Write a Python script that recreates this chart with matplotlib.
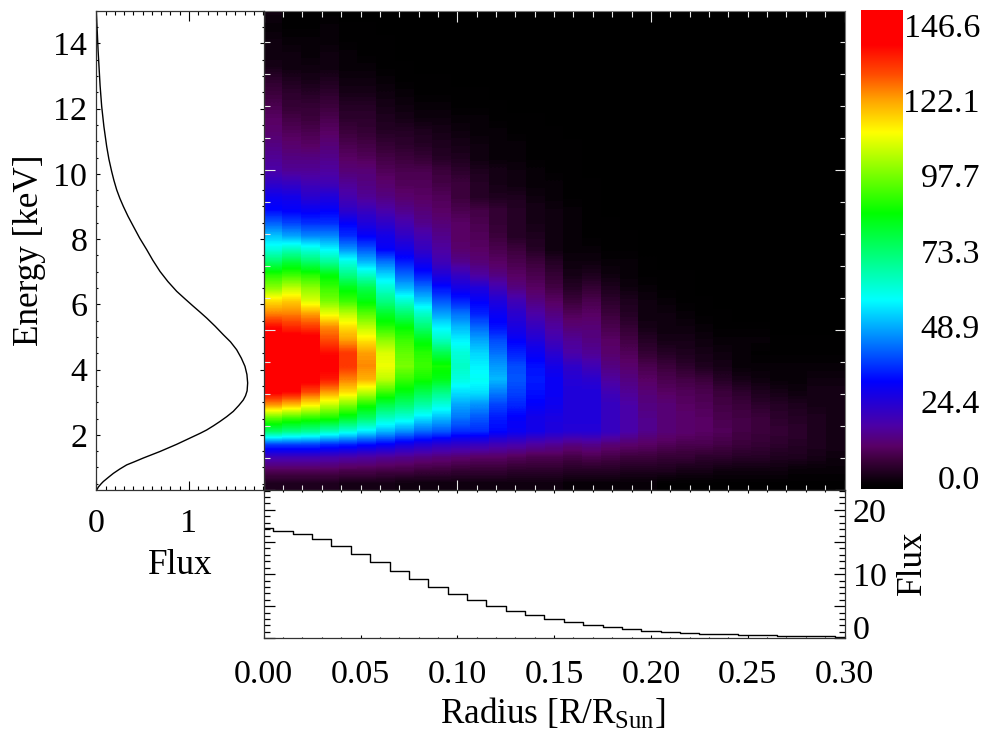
import numpy as np
import matplotlib
matplotlib.use('Agg')
import matplotlib.pyplot as plt
from matplotlib.colors import LinearSegmentedColormap
from matplotlib.ticker import MultipleLocator, NullFormatter

plt.rcParams['font.family'] = ['Liberation Serif', 'DejaVu Serif']
plt.rcParams['mathtext.fontset'] = 'custom'
plt.rcParams['mathtext.rm'] = 'Liberation Serif'
plt.rcParams['mathtext.default'] = 'rm'

W, H = 984, 735
PX = 0.72  # points per pixel at dpi 100
FS = 24.5
FS_TITLE = 25.3

# spectrum, left panel
spec_energy = [0.31, 0.40, 0.50, 0.57, 0.69, 0.82, 0.95, 1.08, 1.18, 1.29, 1.39, 1.49, 1.60, 1.71, 1.83, 1.95,
               2.05, 2.15, 2.28, 2.41, 2.56, 2.72, 2.90, 3.07, 3.20, 3.35, 3.59, 3.85, 4.10, 4.35, 4.61, 4.85,
               5.07, 5.33, 5.58, 5.76, 5.94, 6.17, 6.40, 6.70, 7.01, 7.35, 7.68, 8.03, 8.39, 8.70, 9.00, 9.25,
               9.51, 9.80, 10.07, 10.45, 10.84, 11.45, 12.07, 12.70, 13.30, 13.80, 14.32, 14.98]
spec_flux = [0.004, 0.022, 0.052, 0.076, 0.127, 0.184, 0.252, 0.328, 0.415, 0.507, 0.597, 0.687, 0.777, 0.867,
             0.957, 1.047, 1.122, 1.191, 1.265, 1.334, 1.408, 1.478, 1.537, 1.586, 1.610, 1.627, 1.633, 1.625,
             1.604, 1.565, 1.514, 1.448, 1.370, 1.282, 1.191, 1.120, 1.047, 0.956, 0.867, 0.772, 0.687, 0.610,
             0.543, 0.468, 0.400, 0.342, 0.292, 0.254, 0.220, 0.190, 0.166, 0.136, 0.112, 0.082, 0.058, 0.041,
             0.029, 0.019, 0.011, 0.0]

# radial profile, bottom panel
radius = [0.00, 0.01, 0.02, 0.03, 0.04, 0.05, 0.06, 0.07, 0.08, 0.09, 0.10, 0.11, 0.12, 0.13, 0.14, 0.15,
          0.16, 0.17, 0.18, 0.19, 0.20, 0.21, 0.22, 0.23, 0.24, 0.25, 0.26, 0.27, 0.28, 0.29, 0.30]
radial_flux = [17.13, 16.77, 16.3, 15.42, 14.33, 13.14, 11.84, 10.54, 9.24, 8.0, 6.91, 5.92, 5.04, 4.26,
               3.58, 3.01, 2.54, 2.13, 1.82, 1.51, 1.19, 1.04, 0.88, 0.73, 0.62, 0.52, 0.47, 0.42, 0.36,
               0.31, 0.26]

# flux map, one list per radius column, from lowest energy row upward (missing rows are zero)
map_columns = [
    [5, 12, 22, 40, 75, 95, 122, 140, 150, 150, 150, 146, 138, 125, 115, 100, 90, 75, 62, 53, 43, 34, 31, 25, 20, 18, 16, 14, 13, 11, 9, 7, 4, 3, 3, 2, 3],
    [5, 12, 22, 40, 72, 92, 118, 138, 148, 148, 146, 143, 134, 125, 117, 105, 92, 80, 65, 50, 40, 33, 30, 24, 18, 16, 14, 12, 10, 8, 7, 5, 3, 3, 2, 1, 1],
    [5, 12, 22, 40, 70, 90, 112, 130, 142, 145, 146, 143, 132, 122, 108, 100, 90, 75, 62, 47, 38, 32, 26, 22, 18, 16, 13, 11, 9, 8, 6, 4, 3, 2, 2, 1, 1],
    [5, 12, 21, 38, 66, 88, 105, 122, 136, 140, 138, 130, 124, 110, 98, 92, 85, 70, 58, 47, 38, 33, 28, 22, 19, 17, 15, 13, 11, 9, 7, 5, 3, 3, 2, 2, 1],
    [4, 11, 20, 37, 62, 82, 98, 115, 125, 132, 132, 122, 115, 105, 92, 84, 72, 62, 48, 38, 33, 25, 21, 18, 15, 13, 11, 9, 7, 6, 4, 3, 2, 2, 1, 1],
    [4, 11, 19, 35, 57, 75, 88, 105, 120, 124, 122, 114, 105, 95, 85, 78, 65, 52, 42, 33, 28, 23, 18, 16, 15, 12, 10, 8, 7, 6, 4, 3, 2, 1, 1, 1],
    [4, 10, 18, 33, 52, 65, 78, 92, 105, 110, 108, 100, 90, 82, 72, 64, 55, 45, 33, 30, 25, 20, 16, 14, 12, 10, 8, 6, 5, 4, 3, 2, 1, 1, 1],
    [3, 10, 17, 30, 48, 62, 74, 84, 92, 98, 96, 92, 86, 75, 64, 52, 44, 36, 30, 25, 21, 17, 14, 12, 11, 9, 7, 6, 4, 3, 2, 1, 1],
    [3, 9, 16, 28, 44, 56, 68, 78, 88, 92, 90, 84, 74, 65, 54, 45, 36, 30, 24, 21, 17, 15, 13, 12, 11, 8, 6, 5, 3, 2, 1, 1],
    [3, 9, 15, 26, 42, 52, 62, 72, 84, 88, 78, 66, 58, 50, 42, 35, 28, 22, 19, 17, 15, 13, 12, 10, 9, 6, 5, 4, 3, 2, 1, 1],
    [3, 8, 14, 25, 38, 45, 50, 56, 62, 65, 63, 58, 52, 45, 37, 30, 24, 17, 14, 13, 13, 11, 9, 9, 7, 5, 4, 3, 2, 1, 1],
    [3, 8, 13, 24, 38, 42, 48, 56, 60, 58, 55, 50, 44, 37, 33, 28, 19, 15, 13, 12, 11, 10, 6, 6, 5, 3, 3, 2, 2, 1, 1],
    [3, 8, 13, 22, 34, 36, 40, 46, 52, 49, 45, 41, 35, 32, 28, 22, 16, 13, 11, 9, 8, 8, 5, 4, 4, 2, 2, 2, 1, 1],
    [3, 7, 12, 21, 32, 33, 37, 40, 42, 41, 37, 33, 29, 26, 22, 16, 13, 11, 9, 6, 6, 6, 5, 3, 3, 2, 2, 1, 1],
    [3, 7, 11, 19, 30, 30, 33, 35, 36, 35, 32, 28, 24, 20, 16, 13, 11, 9, 6, 5, 4, 4, 3, 2, 2, 1, 1, 1, 1],
    [3, 7, 11, 18, 28, 29, 31, 32, 32, 30, 26, 22, 19, 16, 13, 10, 8, 6, 3, 3, 3, 3, 2, 2, 1, 1, 1, 1],
    [2, 6, 10, 16, 27, 28, 28, 28, 27, 25, 20, 18, 15, 12, 9, 6, 4, 3, 2, 2, 2, 2, 1, 1, 1, 1, 1],
    [2, 6, 11, 17, 27, 28, 28, 28, 26, 22, 18, 16, 15, 13, 11, 8, 5, 3, 2, 1, 1, 1, 1, 1],
    [2, 6, 10, 15, 24, 24, 24, 22, 19, 16, 14, 13, 11, 9, 7, 5, 3, 2, 1, 1, 1],
    [2, 5, 9, 14, 20, 20, 20, 18, 16, 14, 12, 10, 8, 6, 5, 3, 2, 2, 1, 1],
    [2, 5, 9, 13, 17, 17, 16, 15, 13, 11, 8, 6, 4, 3, 3, 2, 1, 1],
    [1, 5, 8, 12, 15, 15, 15, 13, 11, 9, 6, 4, 3, 3, 2, 1, 1],
    [1, 4, 8, 11, 14, 14, 13, 12, 10, 7, 5, 4, 3, 2, 1, 1, 1],
    [1, 4, 7, 11, 13, 13, 12, 11, 9, 5, 4, 3, 2, 1, 1],
    [1, 3, 7, 10, 12, 11, 10, 9, 6, 4, 3, 2, 1, 1],
    [1, 3, 6, 9, 10, 10, 9, 7, 4, 2, 2, 2, 1],
    [1, 3, 6, 8, 9, 9, 7, 5, 3, 2, 1, 2, 1],
    [1, 3, 5, 7, 8, 7, 6, 4, 2, 2, 1, 1],
    [1, 2, 5, 6, 7, 6, 5, 3, 2, 2, 1, 1],
    [1, 2, 4, 5, 5, 5, 4, 4, 3, 2, 1, 1],
    [1, 2, 3, 4, 4, 4, 4, 4, 3, 2, 1, 1],
]
N_ROWS = 37

cbar_labels = ['146.6', '122.1', '97.7', '73.3', '48.9', '24.4', '0.0']

cmap = LinearSegmentedColormap.from_list('idl_rainbow', [
    (0.0, (0, 0, 0)), (0.01, (0.02, 0, 0.02)), (0.06, (0.24, 0, 0.24)), (0.0875, (0.35, 0, 0.4)),
    (0.13, (0.3, 0, 0.65)), (0.223, (0, 0, 1)), (0.393, (0, 1, 1)), (0.483, (0, 1, 0.5)),
    (0.575, (0, 1, 0)), (0.744, (1, 1, 0)), (0.81, (1, 0.65, 0)), (0.865, (1, 0.3, 0)),
    (0.927, (1, 0, 0)), (1.0, (1, 0, 0))], N=256)

fig = plt.figure(figsize=(W / 100, H / 100), dpi=100)


def panel(x0, y0, x1, y1):
    return fig.add_axes([x0 / W, 1 - y1 / H, (x1 - x0) / W, (y1 - y0) / H])


# main map, blocky across radius and smooth along energy: one image per column
ax = panel(263.7, 10.7, 844.5, 490)
radius_edges = np.linspace(0, 0.30, len(map_columns) + 1)
energy_lo, energy_hi = 0.31, 0.31 + 0.399 * N_ROWS
for i, col in enumerate(map_columns):
    values = np.array(col + [0] * (N_ROWS - len(col)), dtype=float).reshape(-1, 1)
    ax.imshow(values, origin='lower', aspect='auto', cmap=cmap, vmin=0, vmax=150,
              extent=[radius_edges[i], radius_edges[i + 1], energy_lo, energy_hi],
              interpolation='bilinear', interpolation_stage='data')
ax.set_xlim(0, 0.30)
ax.set_ylim(0.31, 15.0)
ax.set_xticks(np.arange(0, 0.301, 0.10))
ax.set_xticks(np.arange(0, 0.301, 0.01), minor=True)
ax.set_yticks(0.31 + np.arange(0, 15, 5) * 32 / 32.6)
ax.set_yticks(0.31 + np.arange(0, 15) * 32 / 32.6, minor=True)
ax.tick_params(which='major', direction='in', top=True, right=True, length=10.5 * PX, width=0.8,
               color='#e8e8e8', labelleft=False, labelbottom=False)
ax.tick_params(which='minor', direction='in', top=True, right=True, length=5.5 * PX, width=0.8,
               color='#e8e8e8')
for s in ax.spines.values():
    s.set_color('#777777')
    s.set_linewidth(0.8)

# spectrum
ax_spec = panel(96.3, 10.7, 263.7, 490)
ax_spec.plot(spec_flux, spec_energy, color='black', lw=1.0)
ax_spec.set_xlim(0, 1.806)
ax_spec.set_ylim(0.31, 15.0)
ax_spec.xaxis.set_major_locator(MultipleLocator(1))
ax_spec.xaxis.set_minor_locator(MultipleLocator(0.1))
ax_spec.yaxis.set_major_locator(MultipleLocator(2))
ax_spec.yaxis.set_minor_locator(MultipleLocator(0.5))
ax_spec.tick_params(axis='x', which='major', direction='in', top=True, length=9.5 * PX, width=0.8,
                    pad=19 * PX, labelsize=FS)
ax_spec.tick_params(axis='x', which='minor', direction='in', top=True, length=4 * PX, width=0.8)
ax_spec.tick_params(axis='y', which='major', direction='in', right=True, length=4 * PX, width=0.8,
                    pad=9 * PX, labelsize=FS)
ax_spec.tick_params(axis='y', which='minor', direction='in', right=True, length=2 * PX, width=0.8)
for s in ax_spec.spines.values():
    s.set_linewidth(0.9)
    s.set_color('#333333')

# radial profile
ax_rad = panel(263.7, 490, 844.5, 638.3)
ax_rad.step(radius, radial_flux, where='mid', color='black', lw=1.0)
ax_rad.set_xlim(0, 0.30)
ax_rad.set_ylim(0, 23.1)
ax_rad.xaxis.set_major_locator(MultipleLocator(0.05))
ax_rad.xaxis.set_minor_locator(MultipleLocator(0.01))
ax_rad.xaxis.set_major_formatter(lambda v, pos: f'{v:.2f}')
ax_rad.yaxis.set_major_locator(MultipleLocator(5))
ax_rad.yaxis.set_minor_locator(MultipleLocator(1))
ax_rad.yaxis.tick_right()
# the 0 label sits above its tick in the reference, so it is placed by hand below
ax_rad.yaxis.set_major_formatter(lambda v, pos: f'{v:.0f}' if v in (10, 20) else '')
ax_rad.yaxis.set_minor_formatter(NullFormatter())
ax_rad.tick_params(axis='x', which='major', direction='in', top=True, length=3 * PX, width=0.8,
                   pad=21 * PX, labelsize=FS)
ax_rad.tick_params(axis='x', which='minor', direction='in', top=True, length=1.5 * PX, width=0.8)
ax_rad.tick_params(axis='y', which='major', direction='in', left=True, right=True, length=11 * PX,
                   width=0.9, pad=8 * PX, labelsize=FS)
ax_rad.tick_params(axis='y', which='minor', direction='in', left=True, right=True, length=6 * PX, width=0.9)
for s in ax_rad.spines.values():
    s.set_linewidth(0.9)
    s.set_color('#333333')
fig.text(853 / W, 1 - 630.5 / H, '0', ha='left', va='center', fontsize=FS)

# colour bar
ax_bar = panel(861, 9.5, 903, 489)
ax_bar.imshow(np.linspace(1, 0, 256).reshape(-1, 1), aspect='auto', cmap=cmap, vmin=0, vmax=1,
              interpolation='bilinear')
ax_bar.axis('off')
for i, lab in enumerate(cbar_labels):
    fig.text(980 / W, 1 - (28.5 + 75.3 * i) / H, lab, ha='right', va='center', fontsize=FS)

# axis titles
fig.text(30 / W, 1 - 250 / H, 'Energy [keV]', rotation=90, ha='center', va='center', fontsize=FS_TITLE)
fig.text(180 / W, 1 - 566 / H, 'Flux', ha='center', va='center', fontsize=FS_TITLE)
fig.text(912 / W, 1 - 563 / H, 'Flux', rotation=90, ha='center', va='center', fontsize=FS_TITLE)
fig.text(553 / W, 1 - 714 / H, 'Radius [R/R$_{Sun}$]', ha='center', va='center', fontsize=FS_TITLE)

fig.savefig('out.png', dpi=100)
